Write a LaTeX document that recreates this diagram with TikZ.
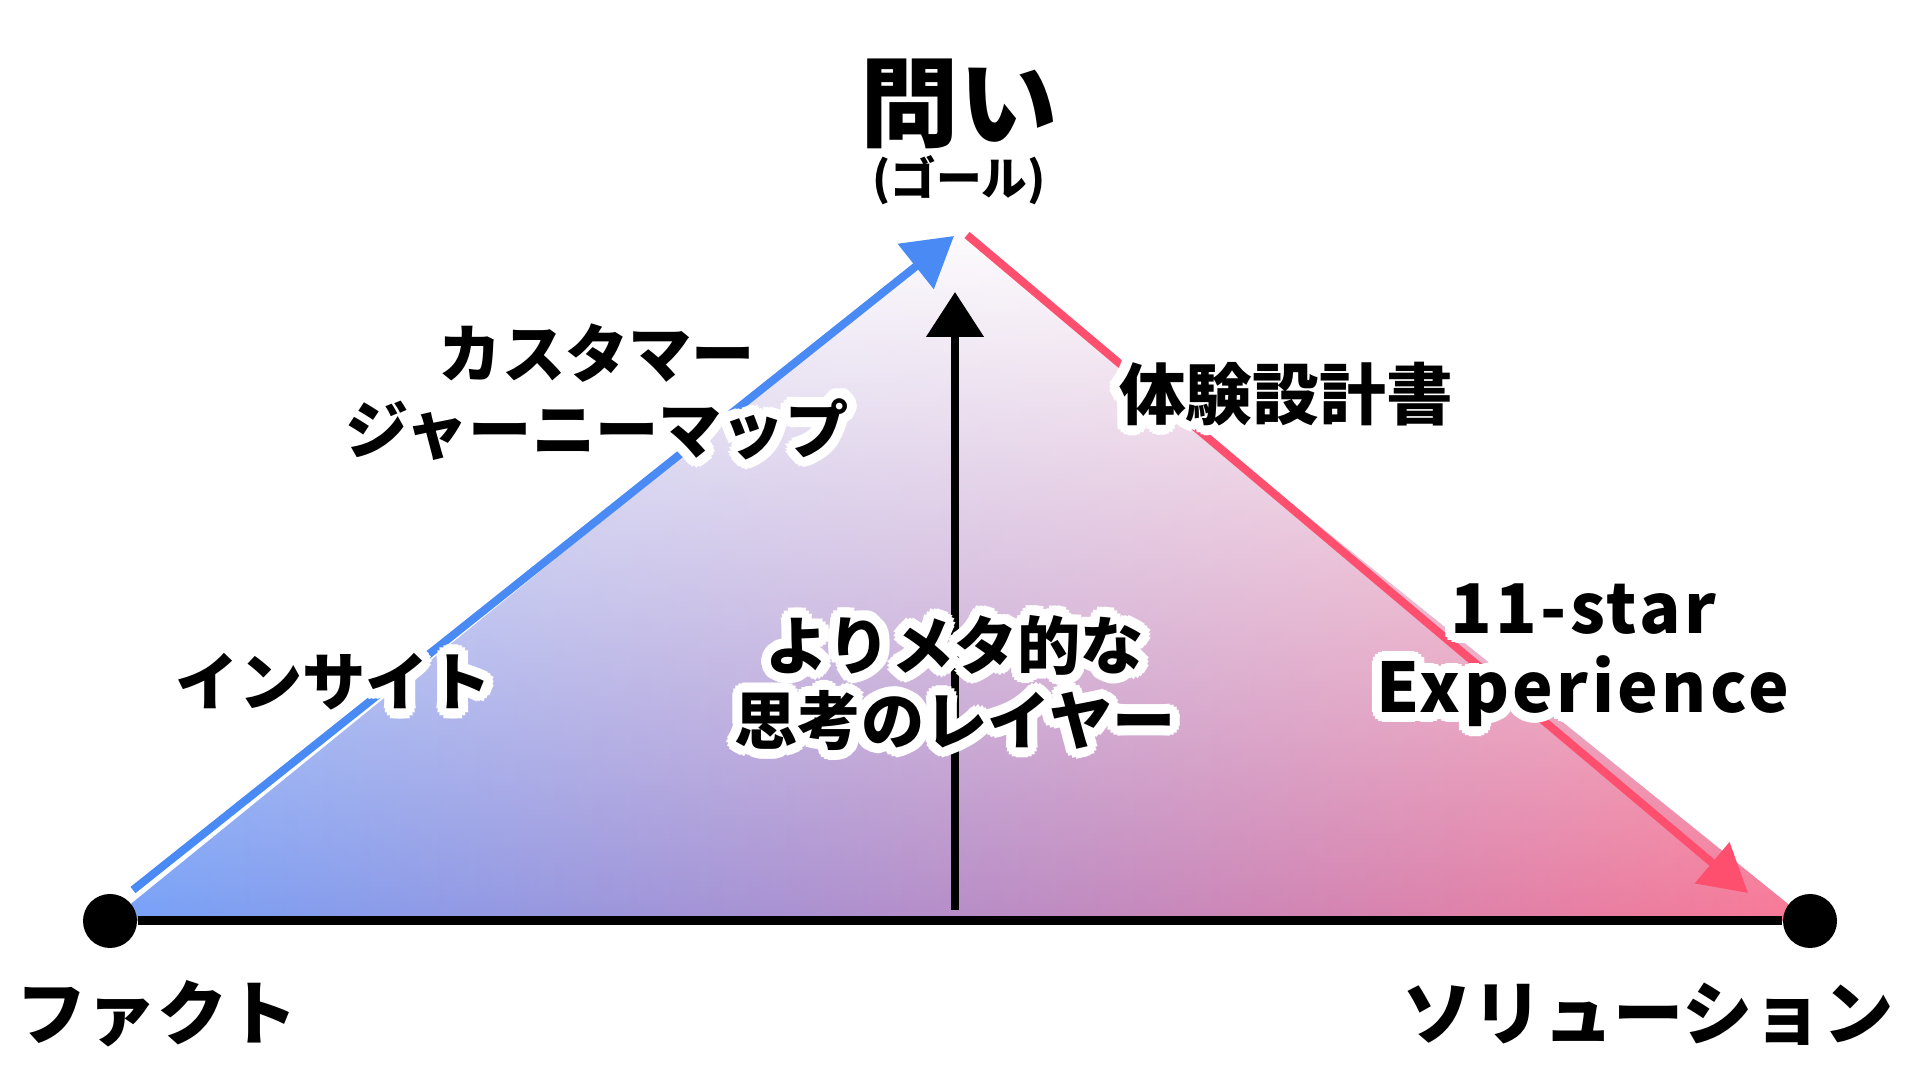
\documentclass[tikz,border=0pt]{standalone}
\usepackage{fontspec}
\setmainfont{Noto Sans CJK JP}
\newfontfamily\latinfont{Noto Sans CJK JP}[LetterSpace=5]
\usetikzlibrary{arrows.meta,calc,fadings,backgrounds}
\definecolor{ink}{HTML}{000000}
\definecolor{cblue}{HTML}{4A8AF5}
\definecolor{cred}{HTML}{FF4F6F}
\definecolor{fillL}{HTML}{6C9BF8}
\definecolor{fillR}{HTML}{F86F8E}
\tikzfading[name=fadeup, top color=transparent!97, bottom color=transparent!6]
\tikzset{
  dot/.style={circle, fill=ink, inner sep=0pt, minimum size=5.4mm},
  base/.style={draw=ink, line width=0.9mm},
  barrow/.style={-{Triangle[length=4.9mm,width=5.6mm]}, draw=cblue, line width=0.8mm},
  rarrow/.style={-{Triangle[length=4.7mm,width=5.2mm]}, draw=cred, line width=0.8mm},
  uparrow/.style={-{Triangle[length=4.5mm,width=5.6mm]}, draw=ink, line width=0.8mm},
  % ---- texts ----
  ttl/.style={font=\bfseries\fontsize{28}{32}\selectfont, inner sep=0pt},
  subttl/.style={font=\bfseries\fontsize{13}{15}\selectfont, inner sep=0pt},
  pole/.style={font=\bfseries\fontsize{20}{24}\selectfont, inner sep=0pt},
  lbl/.style={font=\bfseries\fontsize{18}{21.5}\selectfont, align=center, inner sep=0pt},
  lblbig/.style={font=\bfseries\fontsize{19}{22}\selectfont, align=center, inner sep=0pt},
  lbllat/.style={font=\latinfont\bfseries\fontsize{19.5}{22.5}\selectfont, align=center, inner sep=0pt},
}
% white halo round a label: #1 style, #2 name, #3 position, #4 text
\newcommand{\halo}[4]{%
  \foreach \ang in {0,22.5,...,337.5}{
    \node[#1,text=white] at ($(#3)+(\ang:1.0mm)$) {#4};
    \node[#1,text=white] at ($(#3)+(\ang:0.5mm)$) {#4};
  }
  \node[#1] (#2) at (#3) {#4};}

\begin{document}
\begin{tikzpicture}
\useasboundingbox (0,0) rectangle (19.2,10.8);
% ---- corners ----
\coordinate (apex) at (9.57,8.47);
\node[dot] (fact) at (1.10,1.59) {};
\node[dot] (sol)  at (18.10,1.59) {};
\begin{scope}[on background layer]
  \shade[left color=fillL, right color=fillR, path fading=fadeup]
    (fact.center) -- (apex) -- (sol.center) -- cycle;
\end{scope}
% ---- sides ----
\coordinate (bstart) at (1.33,1.90);
\coordinate (btip)   at (9.54,8.44);
\coordinate (rstart) at (9.67,8.45);
\coordinate (rtip)   at (17.48,1.87);
\draw[barrow] (bstart) -- (btip);
\draw[rarrow] (rstart) -- (rtip);
\draw[base] (fact) -- (sol);
% ---- meta axis ----
\coordinate (vbot) at (9.55,1.70);
\coordinate (vtip) at (9.55,7.88);
\draw[uparrow] (vbot) -- (vtip);
% ---- titles ----
\node[ttl]    (goal)  at (9.59,9.76) {問い};
\node[subttl] (goal2) at (9.59,9.00) {(ゴール)};
\node[pole]   (factlbl) at (1.57,0.66) {ファクト};
\node[pole]   (sollbl)  at (16.48,0.66) {ソリューション};
% ---- labels ----
\halo{lbl}{cjm}{5.97,6.88}{カスタマー\\ジャーニーマップ}
\halo{lbl}{insight}{3.34,3.98}{インサイト}
\halo{lblbig}{design}{12.86,6.86}{体験設計書}
\halo{lbllat}{star}{15.83,4.25}{11-star\\Experience}
\halo{lbl}{meta}{9.55,3.97}{よりメタ的な\\思考のレイヤー}
\end{tikzpicture}
\end{document}
